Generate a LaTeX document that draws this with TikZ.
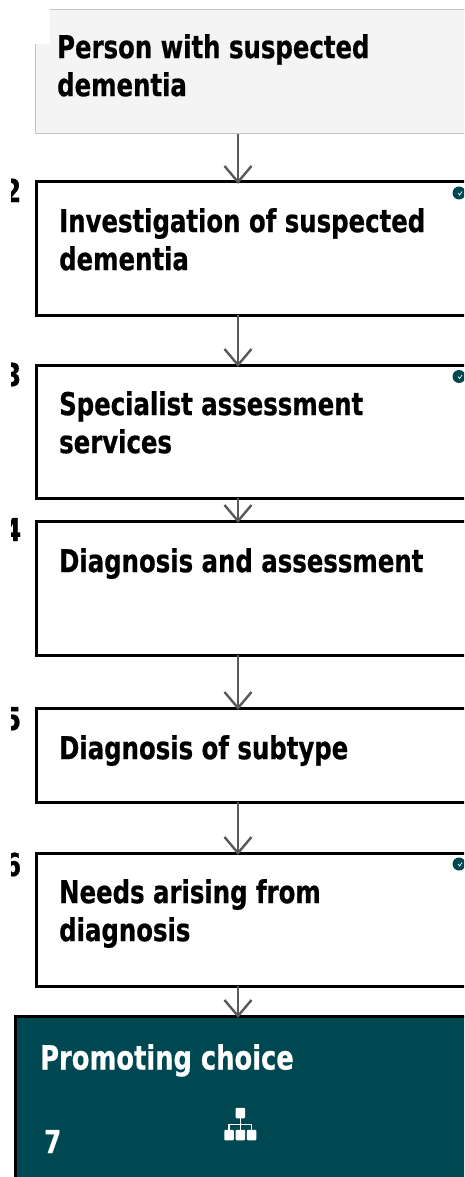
\documentclass[tikz,border=0pt]{standalone}
\usepackage{fontspec}
\setmainfont{DejaVu Sans}[Extension=.ttf,UprightFont=DejaVuSansCondensed,BoldFont=DejaVuSansCondensed-Bold,BoldFeatures={FakeStretch=0.86,FakeBold=0.6}]
\definecolor{teal}{HTML}{004851}
\definecolor{pale}{HTML}{F4F4F4}
\definecolor{edge}{HTML}{BFC4C6}
\definecolor{arr}{HTML}{595959}
\tikzset{
  stepbox/.style={draw=black,line width=3pt,fill=white,anchor=north west,minimum width=460pt,inner sep=0pt,outer sep=0pt},
  title/.style={font=\fontsize{31.5}{38}\selectfont\bfseries,align=left,anchor=north west,inner sep=0pt,text=black},
  num/.style={font=\fontsize{31.5}{32}\selectfont\bfseries,anchor=base west,inner sep=0pt},
  flow/.style={draw=arr,line width=2.4pt},
  badge/.style={circle,fill=teal,minimum size=13pt,inner sep=0pt},
  ico/.style={rectangle,rounded corners=1pt,fill=white,minimum width=9.5pt,minimum height=10.5pt,inner sep=0pt},
}
\newcommand{\chevron}[1]{\draw[flow,line join=miter] ($(#1)+(-13.5,-16)$) -- (#1) -- ($(#1)+(13.5,-16)$);}
\usetikzlibrary{calc}
\begin{document}
\begin{tikzpicture}[x=1pt,y=-1pt]
\useasboundingbox (0,0) rectangle (464,1177);
\clip (0,0) rectangle (464,1177);
\fill[white] (0,0) rectangle (464,1177);
\coordinate (ax) at (238,0);
% boxes
\node[draw=edge,line width=1pt,fill=pale,anchor=north west,minimum width=460pt,minimum height=124.5pt,inner sep=0pt,outer sep=0pt] (b1) at (35.5,9.5) {};
\fill[white] (30,5) rectangle (50,44);
\draw[edge,line width=1pt] (50,9.5) -- (470,9.5);
\node[stepbox,minimum height=133pt] (b2) at (36,182) {};
\node[stepbox,minimum height=133pt] (b3) at (36,365) {};
\node[stepbox,minimum height=134pt] (b4) at (36,521) {};
\node[stepbox,minimum height=94pt] (b5) at (36,708) {};
\node[stepbox,minimum height=133pt] (b6) at (36,853) {};
\node[stepbox,fill=teal,minimum width=480pt,minimum height=200pt] (b7) at (15.5,1016) {};
% connectors
\draw[flow] (b1.south -| ax) -- (b2.north -| ax);
\draw[flow] (b2.south -| ax) -- (b3.north -| ax);
\draw[flow] (b3.south -| ax) -- (b4.north -| ax);
\draw[flow] (b4.south -| ax) -- (b5.north -| ax);
\draw[flow] (b5.south -| ax) -- (b6.north -| ax);
\draw[flow] (b6.south -| ax) -- (b7.north -| ax);
\coordinate (t2) at (b2.north -| ax);
\coordinate (t3) at (b3.north -| ax);
\coordinate (t4) at (b4.north -| ax);
\coordinate (t5) at (b5.north -| ax);
\coordinate (t6) at (b6.north -| ax);
\coordinate (t7) at (b7.north -| ax);
\chevron{t2}\chevron{t3}\chevron{t4}\chevron{t5}\chevron{t6}\chevron{t7}
% titles
\node[title] (l1) at (57,34) {Person with suspected\\dementia};
\node[title] (l2) at (59,208) {Investigation of suspected\\dementia};
\node[title] (l3) at (59,391) {Specialist assessment\\services};
\node[title] (l4) at (59,548) {Diagnosis and assessment};
\node[title] (l5) at (59,735) {Diagnosis of subtype};
\node[title] (l6) at (59,879) {Needs arising from\\diagnosis};
\node[title,text=white,font=\fontsize{33.3}{38}\selectfont\bfseries] (l7) at (40,1044) {Promoting choice};
\node[num,text=white] (n7) at (44,1153) {7};
% cropped step numbers
\begin{scope}
\clip (11,0) rectangle (30,1177);
\node[num] (n2) at (4,202) {2};
\node[num] (n3) at (4,386) {3};
\node[num] (n4) at (4,541) {4};
\node[num] (n5) at (4,730) {5};
\node[num] (n6) at (4,876) {6};
\end{scope}
% badges
\foreach \y/\n in {193/a,376.5/b,864/c}{
  \node[badge] (bd\n) at (459,\y) {};
  \draw[white,line width=.7pt] (458,\y) -- (459.7,\y+2) -- (462,\y-1.5);
}
% hierarchy icon
\node[ico] (i0) at (240.3,1113) {};
\node[ico] (i1) at (229,1135) {};
\node[ico] (i2) at (240.3,1135) {};
\node[ico] (i3) at (251.6,1135) {};
\draw[white,line width=1.2pt] (i0.south) -- (i2.north);
\draw[white,line width=1.2pt] (i1.north) |- (i3.north |- 0,1124.5) -- (i3.north);
\end{tikzpicture}
\end{document}
